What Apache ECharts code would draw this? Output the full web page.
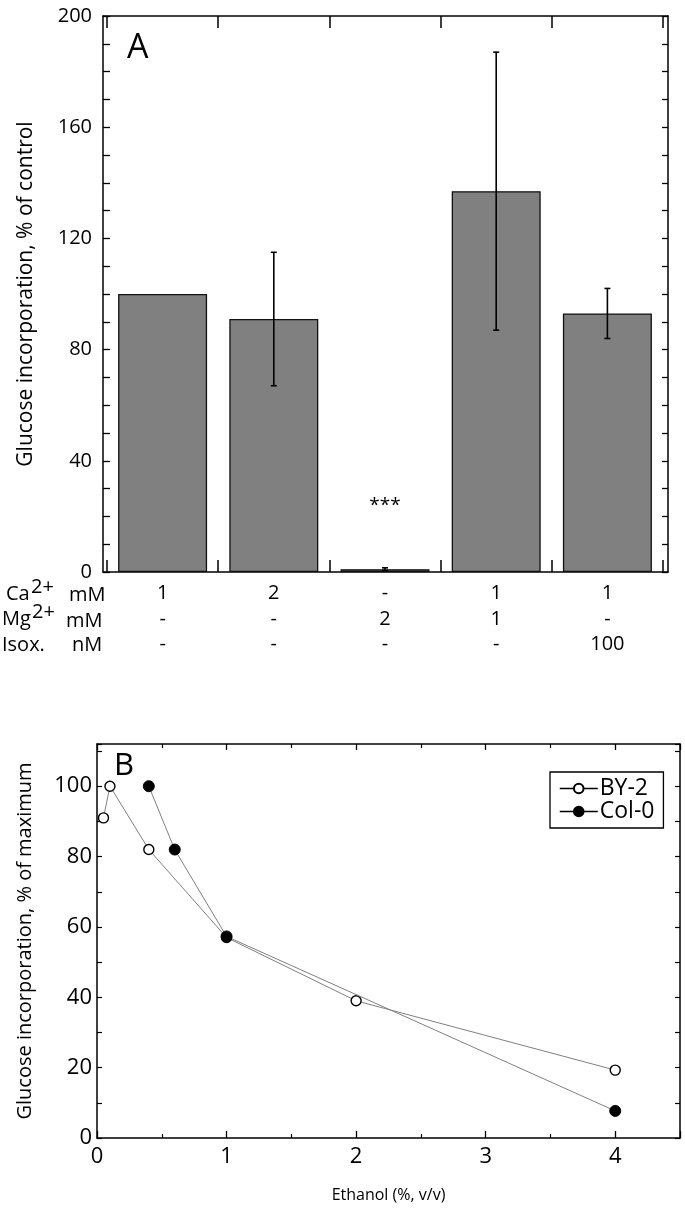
<!DOCTYPE html>
<html>
<head>
<meta charset="utf-8">
<script src="https://cdn.jsdelivr.net/npm/echarts@6/dist/echarts.min.js"></script>
<style>
  html, body { margin: 0; padding: 0; background: #fff; }
  #chart { width: 685px; height: 1209px; }
</style>
</head>
<body>
<div id="chart"></div>
<script>
// ---------- Panel A data ----------
const conditions = ['Ca 1', 'Ca 2', 'Mg 2', 'Ca 1 + Mg 1', 'Ca 1 + Isox 100'];
const caRow   = ['1', '2', '-', '1', '1'];
const mgRow   = ['-', '-', '2', '1', '-'];
const isoxRow = ['-', '-', '-', '-', '100'];
const glucoseA = [100, 91, 1, 137, 93];
const errorA   = [0, 24, 0.5, 50, 9];
const sigMarks = ['', '', '***', '', ''];
const sigHeight = [0, 0, 24, 0, 0];
const yTicksA = [0, 40, 80, 120, 160, 200];

// ---------- Panel B data ----------
const by2X = [0.05, 0.1, 0.4, 1, 2, 4];
const by2Y = [91, 100, 82, 57, 39, 19.3];
const col0X = [0.4, 0.6, 1, 4];
const col0Y = [100, 82, 57.3, 7.7];
const xTicksB = [0, 1, 2, 3, 4];
const yTicksB = [0, 20, 40, 60, 80, 100];

const FONT = '"Open Sans", "Noto Sans", sans-serif';

const catIdx = conditions.map((_, i) => i);
const boundaries = conditions.map((_, i) => i - 0.5).concat([conditions.length - 0.5]);

const chart = echarts.init(document.getElementById('chart'), null, { renderer: 'canvas' });

const axisLine = { show: true, onZero: false, lineStyle: { color: '#000', width: 1.5 } };

const option = {
  backgroundColor: '#fff',
  animation: false,
  textStyle: { fontFamily: FONT, color: '#000' },
  grid: [
    { left: 103, right: 685 - 668, top: 16, bottom: 1209 - 572 },
    { left: 97, right: 685 - 680, top: 744, bottom: 1209 - 1138 }
  ],
  xAxis: [
    {
      gridIndex: 0, type: 'value', position: 'bottom',
      min: -0.536, max: 4.545,
      axisLine: axisLine,
      splitLine: { show: false },
      axisTick: { show: true, inside: true, length: 12, customValues: boundaries, lineStyle: { color: '#000', width: 1.5 } },
      axisLabel: {
        show: true, customValues: catIdx, margin: 9,
        fontSize: 20, lineHeight: 25.5, color: '#000', fontFamily: FONT,
        formatter: v => { const i = Math.round(v); return caRow[i] + '\n' + mgRow[i] + '\n' + isoxRow[i]; }
      }
    },
    {
      gridIndex: 0, type: 'value', position: 'top',
      min: -0.536, max: 4.545,
      axisLine: axisLine,
      splitLine: { show: false },
      axisTick: { show: true, inside: true, length: 12, customValues: boundaries, lineStyle: { color: '#000', width: 1.5 } },
      axisLabel: { show: false }
    },
    {
      gridIndex: 1, type: 'value', position: 'bottom',
      min: 0, max: 4.5, interval: 1,
      axisLine: axisLine,
      splitLine: { show: false },
      axisTick: { show: true, inside: true, length: 7, lineStyle: { color: '#000', width: 1.3 } },
      minorTick: { show: true, splitNumber: 2, length: 4, lineStyle: { color: '#000', width: 1.2 } },
      axisLabel: {
        fontSize: 22, color: '#000', margin: 8, fontFamily: FONT,
        formatter: v => xTicksB.indexOf(v) >= 0 ? String(v) : ''
      },
      name: 'Ethanol (%, v/v)', nameLocation: 'middle', nameGap: 49,
      nameTextStyle: { fontSize: 16, color: '#000', fontFamily: FONT }
    },
    {
      gridIndex: 1, type: 'value', position: 'top',
      min: 0, max: 4.5, interval: 1,
      axisLine: axisLine,
      splitLine: { show: false },
      axisTick: { show: true, inside: true, length: 6, lineStyle: { color: '#000', width: 1.3 } },
      minorTick: { show: true, splitNumber: 2, length: 4, lineStyle: { color: '#000', width: 1.2 } },
      axisLabel: { show: false }
    }
  ],
  yAxis: [
    {
      gridIndex: 0, type: 'value', position: 'left',
      min: 0, max: 200, interval: 10,
      axisLine: axisLine,
      splitLine: { show: false },
      axisTick: { show: true, inside: true, length: 7, lineStyle: { color: '#000', width: 1.3 } },
      axisLabel: {
        fontSize: 20, color: '#000', margin: 11, fontFamily: FONT,
        formatter: v => yTicksA.indexOf(v) >= 0 ? String(v) : ''
      },
      name: 'Glucose incorporation, % of control', nameLocation: 'middle', nameGap: 66,
      nameTextStyle: { fontSize: 21, color: '#000', fontFamily: FONT }
    },
    {
      gridIndex: 0, type: 'value', position: 'right',
      min: 0, max: 200, interval: 10,
      axisLine: axisLine,
      splitLine: { show: false },
      axisTick: { show: true, inside: true, length: 6, lineStyle: { color: '#000', width: 1.3 } },
      axisLabel: { show: false }
    },
    {
      gridIndex: 1, type: 'value', position: 'left',
      min: 0, max: 112, interval: 10,
      axisLine: axisLine,
      splitLine: { show: false },
      axisTick: { show: true, inside: true, length: 5, lineStyle: { color: '#000', width: 1.2 } },
      axisLabel: {
        fontSize: 22, color: '#000', margin: 5, fontFamily: FONT,
        formatter: v => yTicksB.indexOf(v) >= 0 ? String(v) : ''
      },
      name: 'Glucose incorporation, % of maximum', nameLocation: 'middle', nameGap: 62,
      nameTextStyle: { fontSize: 20, color: '#000', fontFamily: FONT }
    },
    {
      gridIndex: 1, type: 'value', position: 'right',
      min: 0, max: 112, interval: 10,
      axisLine: axisLine,
      splitLine: { show: false },
      axisTick: { show: true, inside: true, length: 5, lineStyle: { color: '#000', width: 1.2 } },
      axisLabel: { show: false }
    }
  ],
  legend: {
    data: ['BY-2', 'Col-0'],
    orient: 'vertical',
    left: 550, top: 772,
    padding: [5, 9],
    borderColor: '#000', borderWidth: 1.3,
    itemWidth: 38, itemHeight: 12, itemGap: 0,
    lineStyle: { color: '#000', width: 1.5 },
    textStyle: { fontSize: 23, lineHeight: 20, color: '#000', fontFamily: FONT, padding: [0, 0, 0, -3] }
  },
  graphic: [
    { type: 'text', x: 127, y: 48, style: { text: 'A', fontSize: 34, fontFamily: FONT, fill: '#000', verticalAlign: 'middle' } },
    { type: 'text', x: 114, y: 766, style: { text: 'B', fontSize: 31, fontFamily: FONT, fill: '#000', verticalAlign: 'middle' } },
    { type: 'text', x: 6, y: 594, style: { text: 'Ca', fontSize: 20, fontFamily: FONT, fill: '#000', verticalAlign: 'middle' } },
    { type: 'text', x: 31, y: 587, style: { text: '2+', fontSize: 20, fontFamily: FONT, fill: '#000', verticalAlign: 'middle' } },
    { type: 'text', x: 69, y: 595, style: { text: 'mM', fontSize: 20, fontFamily: FONT, fill: '#000', verticalAlign: 'middle' } },
    { type: 'text', x: 2, y: 619, style: { text: 'Mg', fontSize: 20, fontFamily: FONT, fill: '#000', verticalAlign: 'middle' } },
    { type: 'text', x: 32, y: 612, style: { text: '2+', fontSize: 20, fontFamily: FONT, fill: '#000', verticalAlign: 'middle' } },
    { type: 'text', x: 66, y: 621, style: { text: 'mM', fontSize: 20, fontFamily: FONT, fill: '#000', verticalAlign: 'middle' } },
    { type: 'text', x: 2, y: 645, style: { text: 'Isox.', fontSize: 20, fontFamily: FONT, fill: '#000', verticalAlign: 'middle' } },
    { type: 'text', x: 72, y: 645, style: { text: 'nM', fontSize: 20, fontFamily: FONT, fill: '#000', verticalAlign: 'middle' } }
  ],
  series: [
    {
      type: 'bar', xAxisIndex: 0, yAxisIndex: 0,
      barWidth: 89,
      data: glucoseA.map((v, i) => [i, v]),
      itemStyle: { color: '#808080', borderColor: '#111', borderWidth: 1.3 },
      z: 2
    },
    {
      type: 'custom', xAxisIndex: 0, yAxisIndex: 0,
      data: glucoseA.map((v, i) => [i, v - errorA[i], v + errorA[i]]).filter((d, i) => errorA[i] > 0),
      renderItem: (params, api) => {
        const x = api.value(0);
        const lo = api.coord([x, api.value(1)]);
        const hi = api.coord([x, api.value(2)]);
        const w = 3;
        const st = { stroke: '#000', lineWidth: 1.6 };
        return {
          type: 'group',
          children: [
            { type: 'line', shape: { x1: hi[0], y1: hi[1], x2: lo[0], y2: lo[1] }, style: st },
            { type: 'line', shape: { x1: hi[0] - w, y1: hi[1], x2: hi[0] + w, y2: hi[1] }, style: st },
            { type: 'line', shape: { x1: lo[0] - w, y1: lo[1], x2: lo[0] + w, y2: lo[1] }, style: st }
          ]
        };
      },
      z: 5
    },
    {
      type: 'custom', xAxisIndex: 0, yAxisIndex: 0,
      data: sigMarks.map((s, i) => [i, sigHeight[i], s]).filter(d => d[2] !== ''),
      dimensions: ['x', 'y', { name: 'mark', type: 'ordinal' }],
      renderItem: (params, api) => {
        const p = api.coord([api.value(0), api.value(1)]);
        const idx = params.dataIndex;
        const marks = sigMarks.filter(s => s !== '');
        return {
          type: 'text',
          x: p[0], y: p[1],
          style: { text: marks[idx], fontSize: 19, fontFamily: FONT, fill: '#000', align: 'center', verticalAlign: 'middle' }
        };
      },
      z: 6
    },
    {
      name: 'BY-2', type: 'line', xAxisIndex: 2, yAxisIndex: 2,
      data: by2X.map((x, i) => [x, by2Y[i]]),
      symbol: 'circle', symbolSize: 10,
      lineStyle: { color: '#808080', width: 1 },
      itemStyle: { color: '#fff', borderColor: '#000', borderWidth: 1.4 },
      z: 3
    },
    {
      name: 'Col-0', type: 'line', xAxisIndex: 2, yAxisIndex: 2,
      data: col0X.map((x, i) => [x, col0Y[i]]),
      symbol: 'circle', symbolSize: 11,
      lineStyle: { color: '#808080', width: 1 },
      itemStyle: { color: '#000', borderColor: '#000', borderWidth: 1 },
      z: 4
    }
  ]
};

chart.setOption(option);
</script>
</body>
</html>
